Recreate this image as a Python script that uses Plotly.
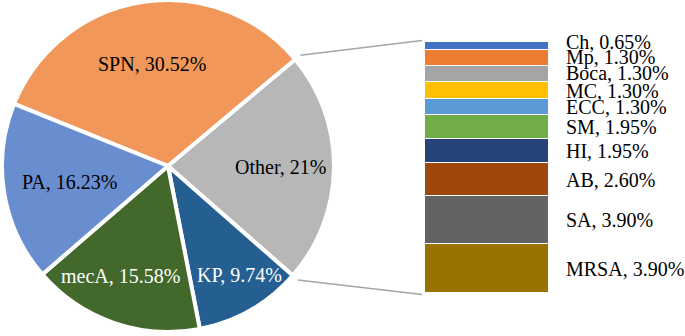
import numpy as np
import plotly.graph_objects as go

# ---------------- data ----------------
pie_labels = ["SPN", "Other", "KP", "mecA", "PA"]
pie_values = [30.52, 21, 9.74, 15.58, 16.23]
pie_pct_text = ["30.52%", "21%", "9.74%", "15.58%", "16.23%"]

bar_labels = ["Ch", "Mp", "Boca", "MC", "ECC", "SM", "HI", "AB", "SA", "MRSA"]
bar_values = [0.65, 1.30, 1.30, 1.30, 1.30, 1.95, 1.95, 2.60, 3.90, 3.90]
bar_pct_text = ["0.65%", "1.30%", "1.30%", "1.30%", "1.30%", "1.95%", "1.95%", "2.60%", "3.90%", "3.90%"]

# ---------------- style ----------------
W, H = 685, 336
FONT = "Liberation Serif"
pie_colors = ["#F1975A", "#B7B7B7", "#255E91", "#43682B", "#698ED0"]
pie_text_colors = ["black", "black", "white", "white", "black"]
pie_label_rf = [0.62, 0.675, 0.76, 0.70, 0.60]      # radial position of labels
pie_label_xshift = [0, 0, 9, -9, 0]
bar_colors = ["#4472C4", "#ED7D31", "#A5A5A5", "#FFC000", "#5B9BD5",
              "#70AD47", "#264478", "#9E480E", "#636363", "#997300"]
bar_label_yshift = [4, 1, 1, 0, 0, 0, 0, 0, 0, 0]
ROTATION = 292

pie_dom_x = [1 / W, 335 / W]
pie_dom_y = [(H - 332) / H, 1.0]
bar_dom_x = [425 / W, 549 / W]
bar_dom_y = [43 / H, 294 / H]

fig = go.Figure()

fig.add_trace(go.Pie(
    labels=pie_labels, values=pie_values, sort=False, direction="clockwise",
    rotation=ROTATION, textinfo="none", hoverinfo="label+percent",
    marker=dict(colors=pie_colors, line=dict(color="white", width=4)),
    domain=dict(x=pie_dom_x, y=pie_dom_y), showlegend=False,
))

# stacked bar (bottom = MRSA)
total_bar = sum(bar_values)
for lab, val, col in reversed(list(zip(bar_labels, bar_values, bar_colors))):
    fig.add_trace(go.Bar(
        x=[0], y=[val], width=1, name=lab, showlegend=False,
        marker=dict(color=col, line=dict(color="white", width=1.5)),
        xaxis="x", yaxis="y",
    ))

annotations = []
# bar labels
rev_vals = np.array(list(reversed(bar_values)))
cum = np.cumsum(rev_vals)
mids = list(reversed((cum - rev_vals / 2).tolist()))
for lab, pct, m, ys in zip(bar_labels, bar_pct_text, mids, bar_label_yshift):
    annotations.append(dict(
        x=564 / W, xref="paper", y=m, yref="y", xanchor="left", yanchor="middle",
        yshift=ys, text=f"{lab}, {pct}", showarrow=False,
        font=dict(family=FONT, size=20, color="black"),
    ))

# pie geometry (pixels)
pw = (pie_dom_x[1] - pie_dom_x[0]) * W
ph = (pie_dom_y[1] - pie_dom_y[0]) * H
r = min(pw, ph) / 2
cx = (pie_dom_x[0] + pie_dom_x[1]) / 2 * W
cy = H - (pie_dom_y[0] + pie_dom_y[1]) / 2 * H  # from top

vals = np.array(pie_values, dtype=float)
ang = vals / vals.sum() * 360
starts = ROTATION + np.concatenate([[0], np.cumsum(ang)[:-1]])
ends = starts + ang
for i, (lab, pct) in enumerate(zip(pie_labels, pie_pct_text)):
    th = np.deg2rad((starts[i] + ends[i]) / 2)
    px = cx + pie_label_rf[i] * r * np.sin(th)
    py = cy - pie_label_rf[i] * r * np.cos(th)
    annotations.append(dict(
        x=px / W, y=1 - py / H, xref="paper", yref="paper",
        xanchor="center", yanchor="middle", xshift=pie_label_xshift[i],
        text=f"{lab}, {pct}", showarrow=False,
        font=dict(family=FONT, size=20, color=pie_text_colors[i]),
    ))

# connector lines from "Other" slice edges to bar
oi = pie_labels.index("Other")
shapes = []
for th_deg, by in [(starts[oi], bar_dom_y[1] + 1.5 / H), (ends[oi], bar_dom_y[0] - 1.5 / H)]:
    th = np.deg2rad(th_deg)
    px = cx + 1.04 * r * np.sin(th)
    py = cy - 1.04 * r * np.cos(th)
    shapes.append(dict(
        type="line", xref="paper", yref="paper",
        x0=px / W, y0=1 - py / H, x1=bar_dom_x[0] - 3 / W, y1=by,
        line=dict(color="#A5A5A5", width=1.5),
    ))

fig.update_layout(
    width=W, height=H, margin=dict(l=0, r=0, t=0, b=0),
    paper_bgcolor="white", plot_bgcolor="white",
    barmode="stack", bargap=0,
    xaxis=dict(domain=bar_dom_x, range=[-0.5, 0.5], visible=False, fixedrange=True),
    yaxis=dict(domain=bar_dom_y, range=[0, total_bar], visible=False, fixedrange=True),
    annotations=annotations, shapes=shapes,
    font=dict(family=FONT, size=20),
)

fig.write_html("out.html", config={"displayModeBar": False},
               post_script="document.body.style.margin='0';")
